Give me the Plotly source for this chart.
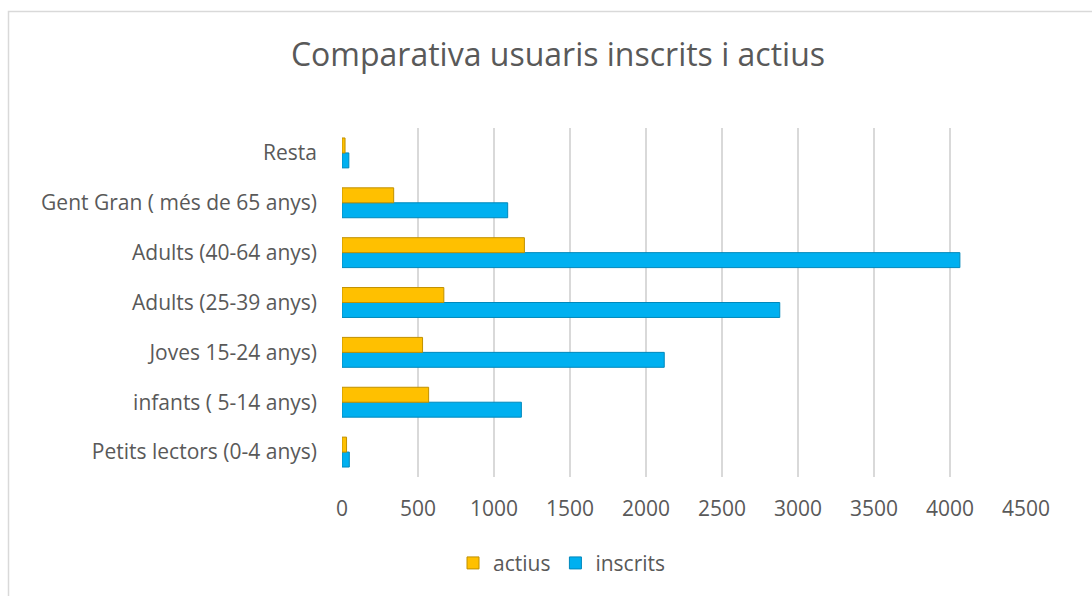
import plotly.graph_objects as go

categories = [
    "Petits lectors (0-4 anys)",
    "infants ( 5-14 anys)",
    "Joves 15-24 anys)",
    "Adults (25-39 anys)",
    "Adults (40-64 anys)",
    "Gent Gran ( més de 65 anys)",
    "Resta",
]
actius = [30, 570, 530, 670, 1200, 340, 20]
inscrits = [48, 1180, 2120, 2880, 4065, 1090, 45]
x_ticks = [0, 500, 1000, 1500, 2000, 2500, 3000, 3500, 4000, 4500]

text_color = "#595959"
font_family = "Open Sans, Lato, sans-serif"

fig = go.Figure()
fig.add_trace(go.Bar(
    y=categories, x=inscrits, name="inscrits", orientation="h",
    marker=dict(color="#00B0F0", line=dict(color="#0088BB", width=1)),
    legendrank=2,
))
fig.add_trace(go.Bar(
    y=categories, x=actius, name="actius", orientation="h",
    marker=dict(color="#FFC000", line=dict(color="#C09000", width=1)),
    legendrank=1,
))

fig.update_layout(
    width=1092, height=596,
    margin=dict(l=342, r=66, t=128, b=116),
    paper_bgcolor="white", plot_bgcolor="white",
    barmode="group", bargap=0.40, bargroupgap=0,
    font=dict(family=font_family, color=text_color, size=21),
    title=dict(
        text="Comparativa usuaris inscrits i actius",
        x=(558) / 1092, xanchor="center",
        y=1 - 55 / 596, yanchor="middle",
        font=dict(size=32, color=text_color, family=font_family),
    ),
    xaxis=dict(
        range=[0, 4500], tickvals=x_ticks,
        showgrid=True, gridcolor="#D9D9D9", gridwidth=2,
        zeroline=False, showline=False,
        ticks="", ticklabelstandoff=17,
        tickfont=dict(size=21, color=text_color),
        fixedrange=True,
    ),
    yaxis=dict(
        showgrid=False, zeroline=False, showline=False,
        ticks="", ticklabelstandoff=24,
        tickfont=dict(size=21, color=text_color),
        categoryorder="array", categoryarray=categories,
        fixedrange=True,
    ),
    legend=dict(
        orientation="h", x=(562 - 342) / 684, xanchor="center",
        y=(480 - 567) / 352, yanchor="middle",
        font=dict(size=21, color=text_color),
        itemwidth=30,
    ),
    showlegend=True,
    shapes=[dict(
        type="rect", xref="paper", yref="paper",
        x0=(8.5 - 342) / 684, x1=1.2,
        y0=-0.5, y1=(480 - 10.5) / 352,
        line=dict(color="#D9D9D9", width=1.5), fillcolor="rgba(0,0,0,0)",
        layer="below",
    )],
)

fig.write_html(
    "out.html",
    config={"displayModeBar": False},
    post_script="document.body.style.margin='0';",
)
